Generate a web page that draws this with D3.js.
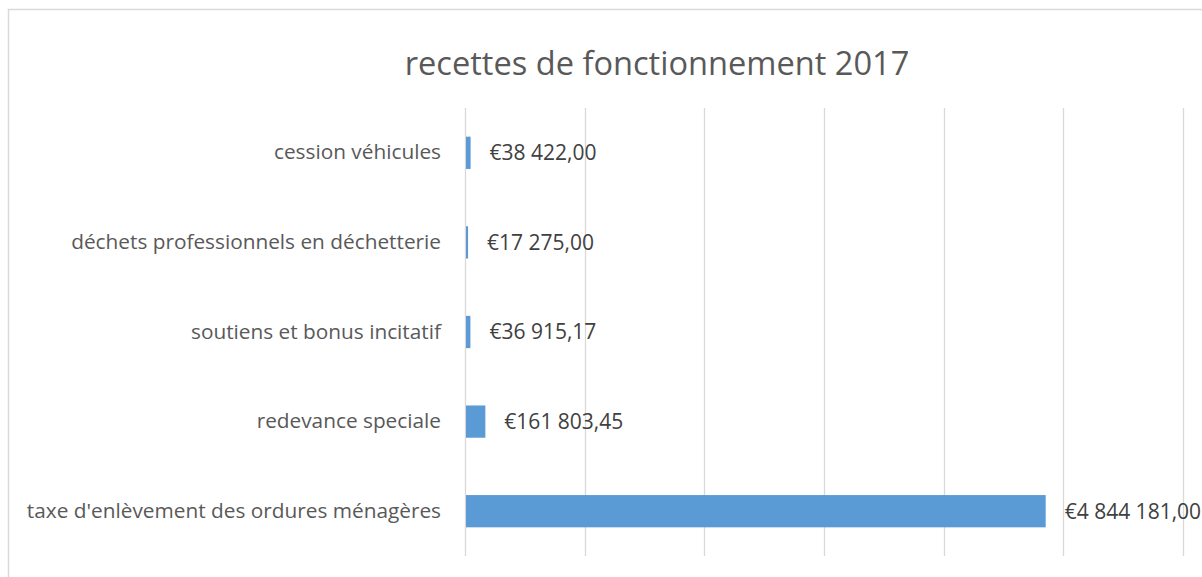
<!DOCTYPE html>
<html>
<head>
<meta charset="utf-8">
<script src="https://cdn.jsdelivr.net/npm/d3@7"></script>
<style>
  body { margin: 0; background: #fff; overflow: hidden; }
  svg { display: block; font-family: "Open Sans", Lato, sans-serif; }
</style>
</head>
<body>
<svg id="chart" width="1202" height="577"></svg>
<script>
// data, bottom category first as in the source sheet
const categories = [
    "taxe d'enlèvement des ordures ménagères",
    "redevance speciale",
    "soutiens et bonus incitatif",
    "déchets professionnels en déchetterie",
    "cession véhicules"
];
const values = [4844181.00, 161803.45, 36915.17, 17275.00, 38422.00];
const labels = ["€4 844 181,00", "€161 803,45", "€36 915,17", "€17 275,00", "€38 422,00"];
const tickValues = [0, 1000000, 2000000, 3000000, 4000000, 5000000, 6000000];
const title = "recettes de fonctionnement 2017";

const svg = d3.select('#chart');
const margin = {left: 465, top: 108, right: 19, bottom: 21};
const width = 1202 - margin.left - margin.right;
const height = 577 - margin.top - margin.bottom;
const fontFamily = '"Open Sans", Lato, sans-serif';

// chart frame
svg.append('rect')
    .attr('x', 8.5).attr('y', 9.5)
    .attr('width', 1300).attr('height', 700)
    .attr('fill', 'none')
    .attr('stroke', '#d9d9d9')
    .attr('stroke-width', 1.5);

svg.append('text')
    .attr('x', 657).attr('y', 75)
    .attr('text-anchor', 'middle')
    .attr('font-size', 32.6)
    .attr('fill', '#595959')
    .text(title);

const x = d3.scaleLinear()
    .domain([0, 6000000])
    .range([0, width]);

const y = d3.scaleBand()
    .domain([...categories].reverse())
    .range([0, height])
    .paddingInner(0.64)
    .paddingOuter(0.32);

const g = svg.append('g')
    .attr('transform', `translate(${margin.left},${margin.top})`);

// gridlines
g.append('g')
    .selectAll('line')
    .data(tickValues)
    .join('line')
    .attr('x1', d => Math.round(x(d)) + 0.5)
    .attr('x2', d => Math.round(x(d)) + 0.5)
    .attr('y1', 0)
    .attr('y2', height)
    .attr('stroke', '#d9d9d9')
    .attr('stroke-width', 1.3);

const rows = categories.map((c, i) => ({cat: c, value: values[i], label: labels[i]}));

g.append('g')
    .selectAll('rect')
    .data(rows)
    .join('rect')
    .attr('x', x(0) + 1)
    .attr('y', d => y(d.cat))
    .attr('width', d => Math.max(1, x(d.value) - x(0)))
    .attr('height', y.bandwidth())
    .attr('fill', '#5b9bd5');

// category axis, no line or ticks
const yAxis = g.append('g')
    .call(d3.axisLeft(y).tickSize(0).tickPadding(24));
yAxis.select('.domain').remove();
yAxis.selectAll('text')
    .attr('font-family', fontFamily)
    .attr('font-size', 20.8)
    .attr('fill', '#595959');

// value labels
g.append('g')
    .selectAll('text')
    .data(rows)
    .join('text')
    .attr('x', d => x(d.value) + 20)
    .attr('y', d => y(d.cat) + y.bandwidth() / 2)
    .attr('dy', '0.35em')
    .attr('font-size', 21)
    .attr('fill', '#404040')
    .text(d => d.label);
</script>
</body>
</html>
